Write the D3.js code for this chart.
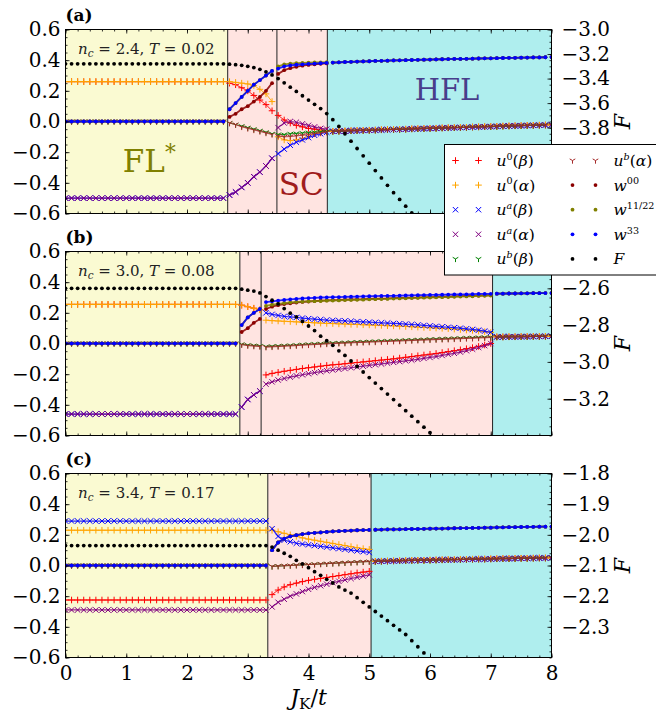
<!DOCTYPE html>
<html>
<head>
<meta charset="utf-8">
<script src="https://cdn.jsdelivr.net/npm/d3@7"></script>
<style>
  body { margin: 0; background: #fff; }
  svg { display: block; }
</style>
</head>
<body>
<div id="chart"></div>
<script>
// J_K/t grid shared by the three panels
const jk = [0,0.1,0.2,0.3,0.4,0.5,0.6,0.7,0.8,0.9,1,1.1,1.2,1.3,1.4,1.5,1.6,1.7,1.8,1.9,2,2.1,2.2,2.3,2.4,2.5,2.6,2.7,2.8,2.9,3,3.1,3.2,3.3,3.4,3.5,3.6,3.7,3.8,3.9,4,4.1,4.2,4.3,4.4,4.5,4.6,4.7,4.8,4.9,5,5.1,5.2,5.3,5.4,5.5,5.6,5.7,5.8,5.9,6,6.1,6.2,6.3,6.4,6.5,6.6,6.7,6.8,6.9,7,7.1,7.2,7.3,7.4,7.5,7.6,7.7,7.8,7.9,8];

const xTicks = [0,1,2,3,4,5,6,7,8];
const leftTicks = [-0.6,-0.4,-0.2,0,0.2,0.4,0.6];
const fTicksA = [-4.4,-4.2,-4,-3.8,-3.6,-3.4,-3.2,-3];
const fTicksB = [-3.2,-3,-2.8,-2.6,-2.4];
const fTicksC = [-2.3,-2.2,-2.1,-2,-1.9,-1.8];

const densities = [2.4, 3.0, 3.4];
const temps = [0.02, 0.08, 0.17];

// phase boundaries in J_K/t
const boundsA = [0, 2.67, 3.48, 4.31, 8];
const phasesA = ["FL", "SC", "SC", "HFL"];
const boundsB = [0, 2.87, 3.22, 7.03, 8];
const phasesB = ["FL", "SC", "SC", "HFL"];
const boundsC = [0, 3.33, 5.03, 8];
const phasesC = ["FL", "SC", "HFL"];

// ---------- panel (a): n_c = 2.4 ----------
// FL* part, J = 0 .. 2.6
const a_fl_u0 = [
  0.26,0.26,0.26,0.26,0.26,0.26,0.26,0.26,0.26,
  0.26,0.26,0.26,0.26,0.26,0.26,0.26,0.26,0.26,
  0.26,0.26,0.26,0.26,0.26,0.26,0.26,0.26,0.26];
const a_fl_ua = [
  -0.5,-0.5,-0.5,-0.5,-0.5,-0.5,-0.5,-0.5,-0.5,
  -0.5,-0.5,-0.5,-0.5,-0.5,-0.5,-0.5,-0.5,-0.5,
  -0.5,-0.5,-0.5,-0.5,-0.5,-0.5,-0.5,-0.5,-0.5];
const a_fl_0 = [
  0,0,0,0,0,0,0,0,0,
  0,0,0,0,0,0,0,0,0,
  0,0,0,0,0,0,0,0,0];
const a_fl_F = [
  -3.28,-3.28,-3.28,-3.28,-3.28,-3.28,-3.28,-3.28,-3.28,
  -3.28,-3.28,-3.28,-3.28,-3.28,-3.28,-3.28,-3.28,-3.28,
  -3.28,-3.28,-3.28,-3.28,-3.28,-3.28,-3.28,-3.28,-3.28];
// SC part, J = 2.7 .. 4.3
const a_sc_u0b = [0.25,0.24,0.22,0.2,0.17,0.14,0.11,0.07,0.04,0.01,-0.01,-0.025,-0.035,-0.045,-0.05,-0.055,-0.06];
const a_sc_u0a = [0.26,0.255,0.25,0.245,0.235,0.21,0.18,0.13,-0.1,-0.12,-0.125,-0.12,-0.11,-0.095,-0.08,-0.07,-0.065];
const a_sc_uab = [-0.48,-0.46,-0.43,-0.4,-0.36,-0.33,-0.29,-0.24,-0.21,-0.18,-0.155,-0.135,-0.12,-0.105,-0.09,-0.08,-0.07];
const a_sc_uaa = [-0.48,-0.46,-0.43,-0.4,-0.36,-0.33,-0.29,-0.24,-0.04,-0.01,0,-0.005,-0.015,-0.025,-0.035,-0.045,-0.05];
const a_sc_ubb = [-0.01,-0.02,-0.03,-0.04,-0.05,-0.06,-0.07,-0.08,-0.085,-0.085,-0.08,-0.078,-0.075,-0.072,-0.07,-0.067,-0.065];
const a_sc_uba = [-0.01,-0.02,-0.035,-0.045,-0.055,-0.065,-0.075,-0.085,-0.095,-0.1,-0.098,-0.094,-0.09,-0.085,-0.08,-0.075,-0.07];
const a_sc_w00 = [0.03,0.05,0.08,0.1,0.13,0.16,0.2,0.25,0.31,0.335,0.348,0.357,0.364,0.369,0.373,0.376,0.379];
const a_sc_w11 = [0.08,0.12,0.16,0.2,0.24,0.27,0.3,0.33,0.36,0.372,0.377,0.38,0.382,0.384,0.385,0.386,0.387];
const a_sc_w33 = [0.08,0.12,0.16,0.2,0.24,0.27,0.3,0.33,0.345,0.36,0.366,0.37,0.373,0.376,0.378,0.38,0.382];
const a_sc_F = [-3.283,-3.287,-3.292,-3.3,-3.31,-3.325,-3.345,-3.37,-3.4,-3.435,-3.47,-3.505,-3.54,-3.575,-3.61,-3.645,-3.685];
// HFL part, J = 4.4 .. 8.0
const a_hfl_top = [
  0.384,0.386,0.388,0.389,0.391,0.392,0.393,0.395,0.396,
  0.397,0.398,0.399,0.4,0.401,0.402,0.403,0.404,0.405,
  0.406,0.407,0.408,0.408,0.409,0.41,0.411,0.412,0.412,
  0.413,0.414,0.415,0.415,0.416,0.417,0.418,0.418,0.419,0.42];
const a_hfl_low = [
  -0.064,-0.063,-0.062,-0.06,-0.059,-0.058,-0.057,-0.056,-0.054,
  -0.053,-0.052,-0.051,-0.05,-0.048,-0.047,-0.046,-0.045,-0.044,
  -0.042,-0.041,-0.04,-0.039,-0.038,-0.036,-0.035,-0.034,-0.033,
  -0.032,-0.03,-0.029,-0.028,-0.027,-0.026,-0.025,-0.024,-0.023,-0.022];
const a_hfl_F = [
  -3.735,-3.79,-3.85,-3.91,-3.97,-4.03,-4.09,-4.15,-4.21,
  -4.27,-4.33,-4.385,-4.44,-4.495,null,null,null,null,
  null,null,null,null,null,null,null,null,null,
  null,null,null,null,null,null,null,null,null,null];

// ---------- panel (b): n_c = 3.0 ----------
// FL* part, J = 0 .. 2.8
const b_fl_u0 = [
  0.255,0.255,0.255,0.255,0.255,0.255,0.255,0.255,0.255,
  0.255,0.255,0.255,0.255,0.255,0.255,0.255,0.255,0.255,
  0.255,0.255,0.255,0.255,0.255,0.255,0.255,0.255,0.255,0.255,0.255];
const b_fl_ua = [
  -0.46,-0.46,-0.46,-0.46,-0.46,-0.46,-0.46,-0.46,-0.46,
  -0.46,-0.46,-0.46,-0.46,-0.46,-0.46,-0.46,-0.46,-0.46,
  -0.46,-0.46,-0.46,-0.46,-0.46,-0.46,-0.46,-0.46,-0.46,-0.46,-0.46];
const b_fl_0 = [
  0,0,0,0,0,0,0,0,0,
  0,0,0,0,0,0,0,0,0,
  0,0,0,0,0,0,0,0,0,0,0];
const b_fl_F = [
  -2.6,-2.6,-2.6,-2.6,-2.6,-2.6,-2.6,-2.6,-2.6,
  -2.6,-2.6,-2.6,-2.6,-2.6,-2.6,-2.6,-2.6,-2.6,
  -2.6,-2.6,-2.6,-2.6,-2.6,-2.6,-2.6,-2.6,-2.6,-2.6,-2.6];
// SC part, J = 2.9 .. 7.0
const b_sc_u0b = [0.25,0.24,0.23,0.22,
  -0.205,-0.195,-0.188,-0.181,-0.175,-0.169,-0.163,-0.158,-0.153,-0.148,-0.143,
  -0.139,-0.136,-0.132,-0.128,-0.124,-0.12,-0.116,-0.112,-0.108,-0.104,-0.1,-0.095,-0.09,
  -0.085,-0.08,-0.075,-0.07,-0.065,-0.059,-0.053,-0.047,-0.041,-0.034,-0.027,-0.019,-0.01,0];
const b_sc_u0a = [0.25,0.24,0.23,0.22,
  0.152,0.149,0.147,0.145,0.143,0.141,0.139,0.137,0.135,0.133,0.131,
  0.13,0.128,0.127,0.125,0.124,0.122,0.121,0.119,0.118,0.116,0.115,0.113,0.111,
  0.109,0.107,0.105,0.103,0.101,0.099,0.097,0.094,0.091,0.088,0.085,0.081,0.077,0.072];
const b_sc_uab = [-0.415,-0.365,-0.335,-0.31,
  0.2,0.19,0.183,0.177,0.173,0.17,0.166,0.162,0.159,0.156,0.153,
  0.151,0.149,0.147,0.145,0.143,0.141,0.139,0.137,0.135,0.133,0.131,0.129,0.127,
  0.124,0.121,0.118,0.115,0.112,0.109,0.106,0.103,0.1,0.096,0.092,0.087,0.081,0.073];
const b_sc_uaa = [-0.415,-0.365,-0.335,-0.31,
  -0.265,-0.25,-0.238,-0.228,-0.219,-0.211,-0.204,-0.197,-0.19,-0.184,-0.178,
  -0.173,-0.168,-0.163,-0.158,-0.153,-0.148,-0.143,-0.138,-0.133,-0.128,-0.123,-0.118,-0.113,
  -0.108,-0.103,-0.097,-0.091,-0.085,-0.078,-0.071,-0.064,-0.056,-0.047,-0.037,-0.026,-0.014,0];
const b_sc_ubb = [-0.005,-0.01,-0.013,-0.016,
  -0.02,-0.018,-0.016,-0.014,-0.012,-0.01,-0.007,-0.005,-0.003,-0.001,0.001,
  0.003,0.005,0.006,0.008,0.01,0.011,0.013,0.014,0.016,0.017,0.019,0.02,0.022,
  0.023,0.025,0.026,0.028,0.029,0.031,0.032,0.034,0.035,0.037,0.038,0.04,0.041,0.042];
const b_sc_uba = [-0.008,-0.014,-0.017,-0.02,
  -0.024,-0.022,-0.02,-0.018,-0.016,-0.014,-0.011,-0.009,-0.007,-0.005,-0.003,
  -0.001,0.001,0.002,0.004,0.006,0.007,0.009,0.01,0.012,0.013,0.015,0.016,0.018,
  0.019,0.021,0.022,0.024,0.025,0.027,0.028,0.03,0.031,0.033,0.034,0.036,0.037,0.039];
const b_sc_w00 = [0.075,0.1,0.135,0.16,
  0.225,0.24,0.25,0.257,0.262,0.267,0.271,0.274,0.277,0.279,0.281,
  0.283,0.284,0.286,0.287,0.288,0.289,0.291,0.292,0.293,0.294,0.296,0.297,0.298,
  0.299,0.3,0.302,0.303,0.304,0.305,0.306,0.308,0.309,0.31,0.311,0.313,0.314,0.316];
const b_sc_w11 = [0.12,0.17,0.2,0.225,
  0.245,0.253,0.259,0.264,0.268,0.271,0.273,0.275,0.276,0.277,0.279,
  0.28,0.281,0.283,0.284,0.285,0.286,0.288,0.289,0.29,0.291,0.293,0.294,0.295,
  0.296,0.297,0.299,0.3,0.301,0.302,0.303,0.305,0.306,0.307,0.308,0.31,0.311,0.313];
const b_sc_w33 = [0.12,0.17,0.2,0.225,
  0.27,0.275,0.28,0.284,0.288,0.291,0.294,0.296,0.298,0.3,0.301,
  0.302,0.303,0.304,0.305,0.306,0.307,0.308,0.309,0.31,0.311,0.311,0.312,0.313,
  0.314,0.315,0.316,0.317,0.317,0.318,0.319,0.32,0.32,0.321,0.322,0.323,0.323,0.324];
const b_sc_F = [-2.605,-2.61,-2.615,-2.625,
  -2.645,-2.665,-2.685,-2.71,-2.735,-2.755,-2.78,-2.805,-2.83,-2.86,-2.885,
  -2.91,-2.94,-2.965,-2.995,-3.025,-3.055,-3.085,-3.115,-3.145,-3.175,-3.205,-3.235,-3.265,
  -3.295,-3.325,-3.355,-3.385,null,null,null,null,null,null,null,null,null,null];
// HFL part, J = 7.1 .. 8.0
const b_hfl_top = [0.325,0.325,0.326,0.326,0.327,0.327,0.328,0.328,0.329,0.329];
const b_hfl_low = [0.043,0.043,0.044,0.044,0.045,0.045,0.046,0.046,0.047,0.047];
const b_hfl_F = [null,null,null,null,null,null,null,null,null,null];

// ---------- panel (c): n_c = 3.4 ----------
// FL* part, J = 0 .. 3.3
const c_fl_u0b = [
  -0.225,-0.225,-0.225,-0.225,-0.225,-0.225,-0.225,-0.225,-0.225,
  -0.225,-0.225,-0.225,-0.225,-0.225,-0.225,-0.225,-0.225,-0.225,
  -0.225,-0.225,-0.225,-0.225,-0.225,-0.225,-0.225,-0.225,-0.225,
  -0.225,-0.225,-0.225,-0.225,-0.225,-0.225,-0.225];
const c_fl_u0a = [
  0.23,0.23,0.23,0.23,0.23,0.23,0.23,0.23,0.23,
  0.23,0.23,0.23,0.23,0.23,0.23,0.23,0.23,0.23,
  0.23,0.23,0.23,0.23,0.23,0.23,0.23,0.23,0.23,
  0.23,0.23,0.23,0.23,0.23,0.23,0.23];
const c_fl_uab = [
  0.29,0.29,0.29,0.29,0.29,0.29,0.29,0.29,0.29,
  0.29,0.29,0.29,0.29,0.29,0.29,0.29,0.29,0.29,
  0.29,0.29,0.29,0.29,0.29,0.29,0.29,0.29,0.29,
  0.29,0.29,0.29,0.29,0.29,0.29,0.29];
const c_fl_uaa = [
  -0.29,-0.29,-0.29,-0.29,-0.29,-0.29,-0.29,-0.29,-0.29,
  -0.29,-0.29,-0.29,-0.29,-0.29,-0.29,-0.29,-0.29,-0.29,
  -0.29,-0.29,-0.29,-0.29,-0.29,-0.29,-0.29,-0.29,-0.29,
  -0.29,-0.29,-0.29,-0.29,-0.29,-0.29,-0.29];
const c_fl_0 = [
  0,0,0,0,0,0,0,0,0,
  0,0,0,0,0,0,0,0,0,
  0,0,0,0,0,0,0,0,0,
  0,0,0,0,0,0,0];
const c_fl_F = [
  -2.035,-2.035,-2.035,-2.035,-2.035,-2.035,-2.035,-2.035,-2.035,
  -2.035,-2.035,-2.035,-2.035,-2.035,-2.035,-2.035,-2.035,-2.035,
  -2.035,-2.035,-2.035,-2.035,-2.035,-2.035,-2.035,-2.035,-2.035,
  -2.035,-2.035,-2.035,-2.035,-2.035,-2.035,-2.035];
// SC part, J = 3.4 .. 5.0
const c_sc_u0b = [-0.19,-0.16,-0.14,-0.125,-0.115,-0.105,-0.097,-0.09,-0.084,-0.078,-0.072,-0.066,-0.06,-0.054,-0.048,-0.043,-0.038];
const c_sc_u0a = [0.23,0.22,0.21,0.2,0.19,0.18,0.172,0.165,0.158,0.151,0.144,0.137,0.13,0.123,0.116,0.11,0.105];
const c_sc_uab = [0.24,0.19,0.165,0.155,0.145,0.14,0.135,0.13,0.125,0.12,0.115,0.11,0.105,0.1,0.095,0.09,0.085];
const c_sc_uaa = [-0.27,-0.24,-0.22,-0.2,-0.185,-0.17,-0.155,-0.143,-0.132,-0.122,-0.112,-0.103,-0.094,-0.085,-0.077,-0.069,-0.061];
const c_sc_ub = [-0.006,-0.004,-0.002,0,0.002,0.004,0.006,0.008,0.01,0.012,0.014,0.016,0.018,0.02,0.022,0.024,0.026];
const c_sc_w = [0.1,0.15,0.175,0.19,0.198,0.205,0.21,0.213,0.216,0.219,0.222,0.224,0.226,0.228,0.23,0.231,0.232];
const c_sc_F = [-2.04,-2.05,-2.06,-2.07,-2.083,-2.095,-2.107,-2.12,-2.132,-2.145,-2.157,-2.17,-2.18,-2.19,-2.205,-2.22,-2.235];
// HFL part, J = 5.1 .. 8.0
const c_hfl_top = [
  0.233,0.234,0.235,0.235,0.236,0.237,0.238,0.238,0.239,0.24,
  0.241,0.241,0.242,0.243,0.244,0.244,0.245,0.246,0.247,0.247,
  0.248,0.249,0.25,0.25,0.251,0.252,0.252,0.253,0.253,0.254];
const c_hfl_low = [
  0.027,0.028,0.029,0.03,0.031,0.032,0.033,0.034,0.034,0.035,
  0.036,0.037,0.038,0.038,0.039,0.04,0.041,0.042,0.042,0.043,
  0.044,0.045,0.045,0.046,0.047,0.047,0.048,0.049,0.049,0.05];
const c_hfl_F = [
  -2.25,-2.265,-2.28,-2.295,-2.31,-2.325,-2.345,-2.365,-2.385,null,
  null,null,null,null,null,null,null,null,null,null,
  null,null,null,null,null,null,null,null,null,null];

// series order: u0(b), u0(a), ua(b), ua(a), ub(b), ub(a), w00, w11/22, w33, F
const seriesA = [
  [...a_fl_u0, ...a_sc_u0b, ...a_hfl_low],
  [...a_fl_u0, ...a_sc_u0a, ...a_hfl_low],
  [...a_fl_ua, ...a_sc_uab, ...a_hfl_low],
  [...a_fl_ua, ...a_sc_uaa, ...a_hfl_low],
  [...a_fl_0, ...a_sc_ubb, ...a_hfl_low],
  [...a_fl_0, ...a_sc_uba, ...a_hfl_low],
  [...a_fl_0, ...a_sc_w00, ...a_hfl_top],
  [...a_fl_0, ...a_sc_w11, ...a_hfl_top],
  [...a_fl_0, ...a_sc_w33, ...a_hfl_top],
  [...a_fl_F, ...a_sc_F, ...a_hfl_F]
];
const seriesB = [
  [...b_fl_u0, ...b_sc_u0b, ...b_hfl_low],
  [...b_fl_u0, ...b_sc_u0a, ...b_hfl_low],
  [...b_fl_ua, ...b_sc_uab, ...b_hfl_low],
  [...b_fl_ua, ...b_sc_uaa, ...b_hfl_low],
  [...b_fl_0, ...b_sc_ubb, ...b_hfl_low],
  [...b_fl_0, ...b_sc_uba, ...b_hfl_low],
  [...b_fl_0, ...b_sc_w00, ...b_hfl_top],
  [...b_fl_0, ...b_sc_w11, ...b_hfl_top],
  [...b_fl_0, ...b_sc_w33, ...b_hfl_top],
  [...b_fl_F, ...b_sc_F, ...b_hfl_F]
];
const seriesC = [
  [...c_fl_u0b, ...c_sc_u0b, ...c_hfl_low],
  [...c_fl_u0a, ...c_sc_u0a, ...c_hfl_low],
  [...c_fl_uab, ...c_sc_uab, ...c_hfl_low],
  [...c_fl_uaa, ...c_sc_uaa, ...c_hfl_low],
  [...c_fl_0, ...c_sc_ub, ...c_hfl_low],
  [...c_fl_0, ...c_sc_ub, ...c_hfl_low],
  [...c_fl_0, ...c_sc_w, ...c_hfl_top],
  [...c_fl_0, ...c_sc_w, ...c_hfl_top],
  [...c_fl_0, ...c_sc_w, ...c_hfl_top],
  [...c_fl_F, ...c_sc_F, ...c_hfl_F]
];

[seriesA, seriesB, seriesC].forEach((ss, k) => ss.forEach((s, i) => {
  if (s.length !== jk.length) throw new Error(`panel ${k} series ${i}: ${s.length} values`);
}));

// ---------- styles ----------
const styles = [
  {marker: "plus", color: "red"},
  {marker: "plus", color: "orange"},
  {marker: "cross", color: "blue"},
  {marker: "cross", color: "purple"},
  {marker: "tri", color: "green"},
  {marker: "tri", color: "brown"},
  {marker: "dot", color: "darkred"},
  {marker: "dot", color: "olive"},
  {marker: "dot", color: "blue"},
  {marker: "dot", color: "black", right: true}
];
const legendLabels = [
  [["u","i"],["0","sup"],["(","r"],["β","i"],[")","r"]],
  [["u","i"],["0","sup"],["(","r"],["α","i"],[")","r"]],
  [["u","i"],["a","supi"],["(","r"],["β","i"],[")","r"]],
  [["u","i"],["a","supi"],["(","r"],["α","i"],[")","r"]],
  [["u","i"],["b","supi"],["(","r"],["β","i"],[")","r"]],
  [["u","i"],["b","supi"],["(","r"],["α","i"],[")","r"]],
  [["w","i"],["00","sup"]],
  [["w","i"],["11/22","sup"]],
  [["w","i"],["33","sup"]],
  [["F","i"]]
];
const phaseFill = {FL: "#fafad2", SC: "#ffe4e1", HFL: "#afeeee"};
const serif = "'DejaVu Serif', serif";

const markerPath = {
  plus: "M-3.3,0H3.3M0,-3.3V3.3",
  cross: "M-2.7,-2.7L2.7,2.7M-2.7,2.7L2.7,-2.7",
  tri: "M0,0V3.2M0,0L-2.8,-1.6M0,0L2.8,-1.6",
  dot: "M1.9,0A1.9,1.9 0 1,1 -1.9,0A1.9,1.9 0 1,1 1.9,0Z"
};
// width of the faint trace that joins neighbouring samples of one phase
const traceWidth = {plus: 1, cross: 1.2, tri: 1, dot: 1.8};

// rich text with italic / sub / superscript parts
function rich(text, parts, size, scale = 0.7) {
  let shift = 0;
  parts.forEach(([s, kind]) => {
    const small = kind.startsWith("sup") || kind.startsWith("sub");
    const target = kind.startsWith("sup") ? -0.4 * size : kind.startsWith("sub") ? 0.2 * size : 0;
    text.append("tspan")
      .attr("dy", target - shift)
      .attr("font-size", small ? size * scale : size)
      .attr("font-style", (kind === "i" || kind === "supi" || kind === "subi") ? "italic" : "normal")
      .text(s);
    shift = target;
  });
}

// ---------- layout ----------
const width = 656, height = 716;
const left = 65.5, right = 551.5;
const tops = [29.5, 251.5, 473.5];
const ph = 184;

const x = d3.scaleLinear([0, 8], [left, right]);

const svg = d3.select("#chart").append("svg")
  .attr("width", width)
  .attr("height", height)
  .attr("viewBox", [0, 0, width, height])
  .attr("font-family", serif);

const panels = [
  {tag: "(a)", series: seriesA, bounds: boundsA, phases: phasesA, fDomain: [-4.5, -3.0], fTicks: fTicksA, fMinor: 30,
   names: [{p: "FL", at: [1.38, -0.33]}, {p: "SC", at: [3.88, -0.48]}, {p: "HFL", at: [6.28, 0.14]}]},
  {tag: "(b)", series: seriesB, bounds: boundsB, phases: phasesB, fDomain: [-3.4, -2.4], fTicks: fTicksB, fMinor: 20, names: []},
  {tag: "(c)", series: seriesC, bounds: boundsC, phases: phasesC, fDomain: [-2.4, -1.8], fTicks: fTicksC, fMinor: 30, names: []}
];

const nameParts = {FL: [["FL","r"],["*","sup"]], SC: [["SC","r"]], HFL: [["HFL","r"]]};
const nameSize = {FL: 31, SC: 31, HFL: 29};
const nameColor = {FL: "#808000", SC: "#a01c1c", HFL: "#483d8b"};

function cleanAxis(g, size) {
  g.select(".domain").remove();
  g.attr("font-family", serif).attr("font-size", size);
  g.selectAll(".tick line").attr("stroke", "#000").attr("stroke-width", 0.8);
  g.selectAll(".tick text").attr("fill", "#000");
}

panels.forEach((p, k) => {
  const top = tops[k];
  const y = d3.scaleLinear([-0.6, 0.6], [top + ph, top]);
  const yF = d3.scaleLinear(p.fDomain, [top + ph, top]);
  const g = svg.append("g");

  const clipId = "clip" + k;
  g.append("clipPath").attr("id", clipId)
    .append("rect").attr("x", left).attr("y", top).attr("width", right - left).attr("height", ph);

  // phase regions
  const regions = d3.pairs(p.bounds).map((b, i) => ({b, phase: p.phases[i]}));
  g.append("g").selectAll("rect").data(regions).join("rect")
    .attr("x", d => x(d.b[0]))
    .attr("y", top)
    .attr("width", d => x(d.b[1]) - x(d.b[0]))
    .attr("height", ph)
    .attr("fill", d => phaseFill[d.phase]);

  g.append("g").selectAll("line").data(p.bounds.slice(1, -1)).join("line")
    .attr("x1", d => x(d)).attr("x2", d => x(d))
    .attr("y1", top).attr("y2", top + ph)
    .attr("stroke", "#222").attr("stroke-width", 1);

  // phase names
  p.names.forEach(n => {
    const t = g.append("text")
      .attr("x", x(n.at[0])).attr("y", y(n.at[1]))
      .attr("text-anchor", "middle")
      .attr("fill", nameColor[n.p]);
    rich(t, nameParts[n.p], nameSize[n.p]);
  });

  // markers (plus a faint trace inside each phase, the samples are dense)
  const plot = g.append("g").attr("clip-path", `url(#${clipId})`);
  const phaseOf = j => d3.bisectRight(p.bounds, j) - 1;
  p.series.forEach((vals, s) => {
    const st = styles[s];
    const yy = st.right ? yF : y;
    const pts = jk.map((j, i) => [j, vals[i]]).filter(d => d[1] != null);
    const sg = plot.append("g");
    if (!st.right) {
      const groups = d3.groups(pts, d => phaseOf(d[0])).map(d => d[1]);
      sg.selectAll("path.trace").data(groups).join("path")
        .attr("class", "trace")
        .attr("fill", "none")
        .attr("stroke", st.color)
        .attr("stroke-width", traceWidth[st.marker])
        .attr("stroke-opacity", 0.85)
        .attr("d", d3.line().x(d => x(d[0])).y(d => yy(d[1])));
    }
    sg.append("g")
      .attr("fill", st.marker === "dot" ? st.color : "none")
      .attr("stroke", st.marker === "dot" ? "none" : st.color)
      .attr("stroke-width", 1)
      .selectAll("path")
      .data(pts)
      .join("path")
      .attr("transform", d => `translate(${x(d[0])},${yy(d[1])})`)
      .attr("d", markerPath[st.marker]);
  });

  // frame
  g.append("rect")
    .attr("x", left).attr("y", top).attr("width", right - left).attr("height", ph)
    .attr("fill", "none").attr("stroke", "#000").attr("stroke-width", 1);

  // left axis
  g.append("g").attr("transform", `translate(${left},0)`)
    .call(d3.axisLeft(y).tickValues(leftTicks).tickSize(-4).tickPadding(5).tickFormat(d3.format(".1f")))
    .call(a => cleanAxis(a, 20));
  g.append("g").attr("transform", `translate(${left},0)`)
    .call(d3.axisLeft(y).ticks(24).tickSize(-2).tickFormat(""))
    .call(a => cleanAxis(a, 20));

  // right axis (F)
  g.append("g").attr("transform", `translate(${right},0)`)
    .call(d3.axisRight(yF).tickValues(p.fTicks).tickSize(-4).tickPadding(10).tickFormat(d3.format(".1f")))
    .call(a => cleanAxis(a, 20));
  g.append("g").attr("transform", `translate(${right},0)`)
    .call(d3.axisRight(yF).ticks(p.fMinor).tickSize(-2).tickFormat(""))
    .call(a => cleanAxis(a, 20));

  // bottom and top
  g.append("g").attr("transform", `translate(0,${top + ph})`)
    .call(d3.axisBottom(x).tickValues(xTicks).tickSize(-4).tickPadding(8)
      .tickFormat(k === 2 ? d3.format("d") : ""))
    .call(a => cleanAxis(a, 20));
  g.append("g").attr("transform", `translate(0,${top + ph})`)
    .call(d3.axisBottom(x).ticks(40).tickSize(-2).tickFormat(""))
    .call(a => cleanAxis(a, 20));
  g.append("g").attr("transform", `translate(0,${top})`)
    .call(d3.axisTop(x).tickValues(xTicks).tickSize(-4).tickFormat(""))
    .call(a => cleanAxis(a, 20));
  g.append("g").attr("transform", `translate(0,${top})`)
    .call(d3.axisTop(x).ticks(40).tickSize(-2).tickFormat(""))
    .call(a => cleanAxis(a, 20));

  // F label
  const fl = g.append("text")
    .attr("transform", `translate(630,${top + ph / 2}) rotate(-90)`)
    .attr("text-anchor", "middle");
  rich(fl, [["F", "i"]], 22);

  // panel tag and parameters
  g.append("text")
    .attr("x", left).attr("y", top - 9)
    .attr("font-weight", "bold").attr("font-size", 17)
    .text(p.tag);
  const note = g.append("text").attr("x", 78).attr("y", top + 24).attr("fill", "#222");
  rich(note, [["n", "i"], ["c", "subi"], ["\u00a0=\u00a0" + d3.format(".1f")(densities[k]) + ",\u00a0", "r"],
    ["T", "i"], ["\u00a0=\u00a0" + d3.format(".2f")(temps[k]), "r"]], 15);
});

// x label
const xl = svg.append("text")
  .attr("x", (left + right) / 2).attr("y", 705)
  .attr("text-anchor", "middle");
rich(xl, [["J", "i"], ["K", "sub"], ["/", "r"], ["t", "i"]], 22);

// legend
const lg = svg.append("g").attr("transform", "translate(444.5,144.5)");
lg.append("rect").attr("width", 230).attr("height", 130.5)
  .attr("fill", "#fff").attr("stroke", "#000").attr("stroke-width", 1);
styles.forEach((st, i) => {
  const col = Math.floor(i / 5), row = i % 5;
  const gx = 11 + col * 117, gy = 16 + row * 24.6;
  const item = lg.append("g").attr("transform", `translate(${gx},${gy})`);
  [0, 23].forEach(dx => item.append("path")
    .attr("transform", `translate(${dx},0)`)
    .attr("d", markerPath[st.marker])
    .attr("fill", st.marker === "dot" ? st.color : "none")
    .attr("stroke", st.marker === "dot" ? "none" : st.color)
    .attr("stroke-width", 1));
  const t = item.append("text").attr("x", 41).attr("y", 5.5);
  rich(t, legendLabels[i], 15.5, 0.62);
});
</script>
</body>
</html>
